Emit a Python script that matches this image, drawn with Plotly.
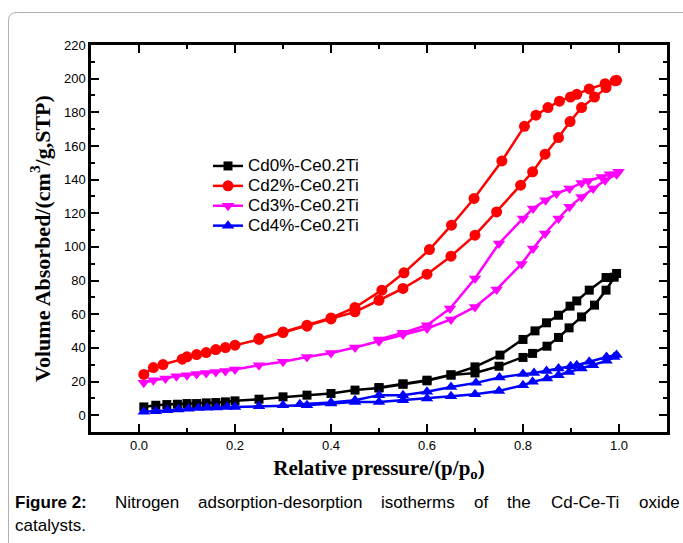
import plotly.graph_objects as go

# ---------------- data ----------------
SERIES_NAMES = ["Cd0%-Ce0.2Ti", "Cd2%-Ce0.2Ti", "Cd3%-Ce0.2Ti", "Cd4%-Ce0.2Ti"]

# Cd0%-Ce0.2Ti (black squares)
cd0_ads_p = [0.01, 0.035, 0.058, 0.08, 0.10, 0.12, 0.14, 0.16, 0.18, 0.20, 0.25, 0.30, 0.35, 0.40, 0.45,
             0.50, 0.55, 0.60, 0.65, 0.70, 0.75, 0.80, 0.82, 0.85, 0.874, 0.896, 0.922, 0.949, 0.973, 0.99]
cd0_ads_v = [4.9, 5.9, 6.3, 6.5, 6.9, 6.9, 7.3, 7.5, 7.9, 8.5, 9.5, 10.9, 11.9, 12.9, 14.9,
             16.2, 18.4, 20.4, 23.8, 25.1, 29.1, 34.3, 36.7, 41.0, 46.2, 51.9, 58.4, 65.4, 74.3, 82.0]
cd0_des_p = [0.995, 0.973, 0.938, 0.912, 0.898, 0.874, 0.849, 0.825, 0.80, 0.752, 0.70, 0.65, 0.60, 0.55, 0.50]
cd0_des_v = [84.2, 81.8, 74.3, 67.9, 64.8, 59.4, 54.9, 50.1, 45.0, 35.7, 28.7, 24.0, 20.8, 18.6, 16.4]

# Cd2%-Ce0.2Ti (red circles)
cd2_ads_p = [0.01, 0.03, 0.05, 0.09, 0.10, 0.12, 0.14, 0.16, 0.18, 0.20, 0.25, 0.30, 0.35, 0.40, 0.45,
             0.50, 0.55, 0.60, 0.65, 0.70, 0.745, 0.795, 0.82, 0.846, 0.874, 0.898, 0.922, 0.949, 0.973, 0.992]
cd2_ads_v = [24.2, 28.3, 30.1, 33.3, 34.7, 36.0, 37.2, 39.0, 40.2, 41.6, 45.0, 49.1, 52.9, 57.2, 61.4,
             68.3, 75.3, 83.8, 94.5, 107.0, 120.8, 136.7, 144.6, 155.1, 165.0, 174.5, 182.8, 189.1, 194.7, 198.7]
cd2_des_p = [0.995, 0.971, 0.938, 0.912, 0.899, 0.876, 0.852, 0.827, 0.803, 0.756, 0.698, 0.651, 0.605,
             0.552, 0.506, 0.45, 0.40, 0.35, 0.30, 0.25]
cd2_des_v = [199.0, 197.0, 193.9, 190.7, 189.1, 186.6, 182.8, 178.3, 171.7, 151.1, 128.8, 112.9, 98.4,
             84.6, 74.3, 64.0, 57.8, 53.5, 49.5, 45.5]

# Cd3%-Ce0.2Ti (magenta down-triangles)
cd3_ads_p = [0.01, 0.03, 0.055, 0.078, 0.10, 0.12, 0.14, 0.16, 0.18, 0.20, 0.25, 0.30, 0.35, 0.40, 0.45,
             0.50, 0.55, 0.60, 0.65, 0.70, 0.745, 0.797, 0.821, 0.846, 0.874, 0.897, 0.922, 0.946, 0.971, 0.995]
cd3_ads_v = [19.2, 20.8, 21.8, 23.2, 23.8, 24.4, 25.1, 25.7, 26.3, 27.1, 29.7, 31.7, 34.6, 37.0, 40.2,
             44.0, 48.0, 51.5, 56.9, 64.3, 74.7, 89.9, 99.0, 108.0, 116.9, 123.8, 129.7, 134.7, 139.6, 143.2]
cd3_des_p = [0.999, 0.981, 0.964, 0.936, 0.922, 0.897, 0.87, 0.847, 0.821, 0.80, 0.75, 0.70, 0.648, 0.60, 0.55, 0.50]
cd3_des_v = [144.6, 143.2, 141.6, 139.2, 138.0, 134.7, 131.7, 127.8, 122.8, 116.9, 102.0, 81.2, 63.4, 53.5, 49.0, 45.0]

# Cd4%-Ce0.2Ti (blue up-triangles)
cd4_ads_p = [0.01, 0.035, 0.059, 0.082, 0.103, 0.124, 0.142, 0.162, 0.183, 0.20, 0.25, 0.30, 0.35, 0.40, 0.45,
             0.50, 0.55, 0.60, 0.65, 0.70, 0.75, 0.80, 0.82, 0.85, 0.874, 0.896, 0.922, 0.946, 0.974, 0.99]
cd4_ads_v = [2.0, 2.4, 3.0, 3.4, 3.8, 4.2, 4.4, 4.6, 4.8, 4.9, 5.3, 5.9, 5.9, 6.9, 7.9,
             7.9, 8.9, 9.9, 11.3, 12.5, 14.4, 17.8, 19.8, 21.8, 23.8, 25.7, 27.7, 29.7, 32.3, 34.5]
cd4_des_p = [0.995, 0.974, 0.938, 0.912, 0.899, 0.874, 0.849, 0.823, 0.80, 0.751, 0.702, 0.65, 0.60,
             0.55, 0.50, 0.45, 0.40, 0.335]
cd4_des_v = [35.7, 34.6, 31.7, 29.7, 29.1, 27.7, 26.3, 25.1, 24.4, 22.4, 19.2, 16.8, 13.9,
             11.9, 11.9, 8.9, 7.5, 6.5]

X_TICKS = [0.0, 0.2, 0.4, 0.6, 0.8, 1.0]
Y_TICKS = list(range(0, 221, 20))

CAPTION_WORDS = ["Nitrogen", "adsorption-desorption", "isotherms", "of", "the", "Cd-Ce-Ti", "oxide"]

# ---------------- figure ----------------
W, H = 683, 543
ML, MR, MT, MB = 91, 16, 45, 111
PW, PH = W - ML - MR, H - MT - MB


def px2x(px):
    return (px - ML) / PW


def py2y(py):
    return (H - MB - py) / PH


styles = [
    dict(color="#000000", symbol="square", size=9),
    dict(color="#FF0000", symbol="circle", size=11),
    dict(color="#FF00FF", symbol="triangle-down", size=11),
    dict(color="#0000FF", symbol="triangle-up", size=11),
]
data = [
    (cd0_ads_p + cd0_des_p, cd0_ads_v + cd0_des_v),
    (cd2_ads_p + cd2_des_p, cd2_ads_v + cd2_des_v),
    (cd3_ads_p + cd3_des_p, cd3_ads_v + cd3_des_v),
    (cd4_ads_p + cd4_des_p, cd4_ads_v + cd4_des_v),
]

fig = go.Figure()
for name, (xs, ys), st in zip(SERIES_NAMES, data, styles):
    fig.add_trace(go.Scatter(
        x=xs, y=ys, mode="lines+markers",
        name='<span style="font-size:17px">%s</span>' % name,
        line=dict(color=st["color"], width=2.5),
        marker=dict(color=st["color"], symbol=st["symbol"], size=st["size"], line=dict(width=0)),
    ))

axis_common = dict(
    showline=True, linewidth=2.5, linecolor="black", mirror="ticks",
    ticks="inside", ticklen=8, tickwidth=2, tickcolor="black",
    showgrid=False, zeroline=False,
    tickfont=dict(family="Liberation Sans, Arial", size=13, color="black"),
)

title_font_x = dict(family="Liberation Serif, Times New Roman", size=21, color="black", weight="bold")
title_font_y = dict(family="Liberation Serif, Times New Roman", size=22, color="black", weight="bold")

fig.update_xaxes(
    range=[-0.1, 1.1], tickvals=X_TICKS, ticktext=["%.1f" % v for v in X_TICKS],
    minor=dict(dtick=0.1, tick0=0, ticks="inside", ticklen=4, tickwidth=2, tickcolor="black"),
    title=dict(text="Relative pressure/(p/p<sub>o</sub>)", font=title_font_x, standoff=8),
    **axis_common,
)
fig.update_yaxes(
    range=[-10, 220], tickvals=Y_TICKS,
    minor=dict(dtick=10, tick0=0, ticks="inside", ticklen=4, tickwidth=2, tickcolor="black"),
    title=dict(text="Volume Absorbed/(cm<sup>3</sup>/g,STP)", font=title_font_y, standoff=8),
    **axis_common,
)

# caption (justified first line, word by word)
cap_font = dict(family="Liberation Sans, Arial", size=17, color="black")
cap_font_b = dict(family="Liberation Sans, Arial", size=17, color="black", weight="bold")
line1_y = py2y(502)
line2_y = py2y(525)
annotations = [
    dict(text="Figure 2:", x=px2x(13), y=line1_y, xref="paper", yref="paper",
         xanchor="left", yanchor="middle", showarrow=False, font=cap_font_b),
    dict(text="catalysts.", x=px2x(13), y=line2_y, xref="paper", yref="paper",
         xanchor="left", yanchor="middle", showarrow=False, font=cap_font),
]
word_left_px = [113, 196, 379, 472, 505, 549, 637]
for wtxt, wx in zip(CAPTION_WORDS, word_left_px):
    annotations.append(dict(text=wtxt, x=px2x(wx), y=line1_y, xref="paper", yref="paper",
                            xanchor="left", yanchor="middle", showarrow=False, font=cap_font))

# rounded gray frame around the figure
x0, y0, r = px2x(8.5), py2y(12.5), 8
xr = px2x(8.5 + r)
yr = py2y(12.5 + r)
frame_path = "M %f %f L %f %f Q %f %f %f %f L %f %f" % (
    x0, py2y(545), x0, yr, x0, y0, xr, y0, px2x(700), y0)

fig.update_layout(
    width=W, height=H,
    margin=dict(l=ML, r=MR, t=MT, b=MB, pad=0),
    paper_bgcolor="white", plot_bgcolor="white",
    showlegend=True,
    legend=dict(x=px2x(208), y=py2y(151), xanchor="left", yanchor="top",
                bgcolor="rgba(0,0,0,0)", borderwidth=0,
                font=dict(family="Liberation Sans, Arial", size=13, color="black"),
                tracegroupgap=0),
    annotations=annotations,
    shapes=[dict(type="path", path=frame_path, xref="paper", yref="paper",
                 line=dict(color="#b0b0b0", width=1), layer="below")],
)

fig.write_html("out.html", config={"displayModeBar": False})
